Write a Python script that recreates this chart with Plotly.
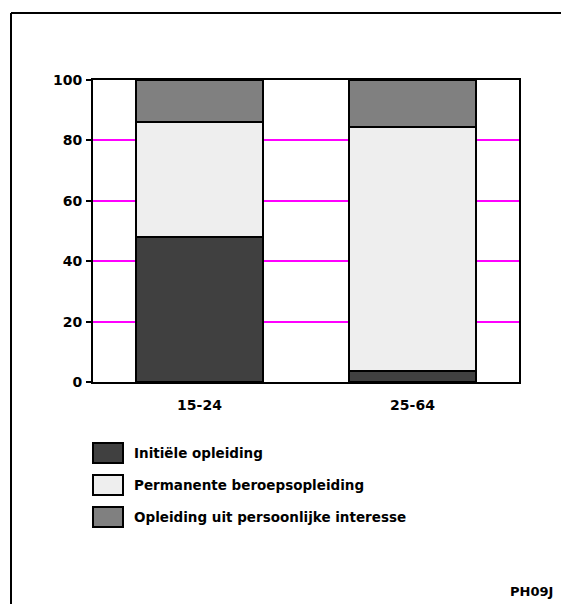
import plotly.graph_objects as go

# Share of training by purpose, per age group (%)
age_groups = ["15-24", "25-64"]
series_names = [
    "Initiële opleiding",
    "Permanente beroepsopleiding",
    "Opleiding uit persoonlijke interesse",
]
initiele = [48, 3.5]
permanente = [38, 81]
persoonlijk = [14, 15.5]
series_values = [initiele, permanente, persoonlijk]
series_colors = ["#404040", "#eeeeee", "#808080"]

y_ticks = [0, 20, 40, 60, 80, 100]
source_code = "PH09J"

FONT = "DejaVu Sans, Arial, sans-serif"

fig = go.Figure()
for name, vals, col in zip(series_names, series_values, series_colors):
    fig.add_trace(go.Bar(
        x=age_groups, y=vals, name=name,
        marker=dict(color=col, line=dict(color="#000000", width=2)),
        width=0.6, showlegend=False,
    ))

W, H = 561, 604
L, R, T, B = 93, 42, 80, 222
pw, ph = W - L - R, H - T - B


def px_x(px):
    return (px - L) / pw


def px_y(py):
    return (H - B - py) / ph


shapes = []
annotations = []

# Legend swatches and labels
for i, (name, col) in enumerate(zip(series_names, series_colors)):
    top = 443 + 32 * i
    shapes.append(dict(
        type="rect", xref="paper", yref="paper",
        x0=px_x(93), x1=px_x(123), y0=px_y(top + 20), y1=px_y(top),
        fillcolor=col, line=dict(color="#000000", width=2),
    ))
    annotations.append(dict(
        x=px_x(132), y=px_y(top + 10), xref="paper", yref="paper",
        text="<b>" + name + "</b>", showarrow=False,
        xanchor="left", yanchor="middle",
        font=dict(family=FONT, size=13.5, color="#000000"),
    ))

# Outer frame (left and top edges)
shapes.append(dict(type="line", xref="paper", yref="paper",
                   x0=px_x(11), x1=px_x(W + 5), y0=px_y(13), y1=px_y(13),
                   line=dict(color="#000000", width=2)))
shapes.append(dict(type="line", xref="paper", yref="paper",
                   x0=px_x(11), x1=px_x(11), y0=px_y(13), y1=px_y(H + 5),
                   line=dict(color="#000000", width=2)))

annotations.append(dict(
    x=px_x(555), y=px_y(591), xref="paper", yref="paper",
    text="<b>" + source_code + "</b>", showarrow=False,
    xanchor="right", yanchor="middle",
    font=dict(family=FONT, size=13, color="#000000"),
))

fig.update_layout(
    width=W, height=H,
    margin=dict(l=L, r=R, t=T, b=B),
    barmode="stack",
    bargap=0.4,
    paper_bgcolor="#ffffff",
    plot_bgcolor="#ffffff",
    showlegend=False,
    shapes=shapes,
    annotations=annotations,
    font=dict(family=FONT, color="#000000"),
    xaxis=dict(
        range=[-0.5, 1.5],
        showline=True, linecolor="#000000", linewidth=2, mirror=True,
        showgrid=False, ticks="",
        tickfont=dict(family=FONT, size=14, color="#000000"),
        ticklabelstandoff=9,
        tickvals=age_groups,
        ticktext=["<b>" + a + "</b>" for a in age_groups],
    ),
    yaxis=dict(
        range=[0, 100],
        tickvals=y_ticks,
        ticktext=["<b>%d</b>" % v for v in y_ticks],
        showline=True, linecolor="#000000", linewidth=2, mirror=True,
        showgrid=True, gridcolor="#ff00ff", gridwidth=2,
        ticks="outside", ticklen=5, tickcolor="#000000", tickwidth=2,
        tickfont=dict(family=FONT, size=14, color="#000000"),
        ticklabelstandoff=1,
        zeroline=False,
    ),
)

fig.write_html("out.html")
